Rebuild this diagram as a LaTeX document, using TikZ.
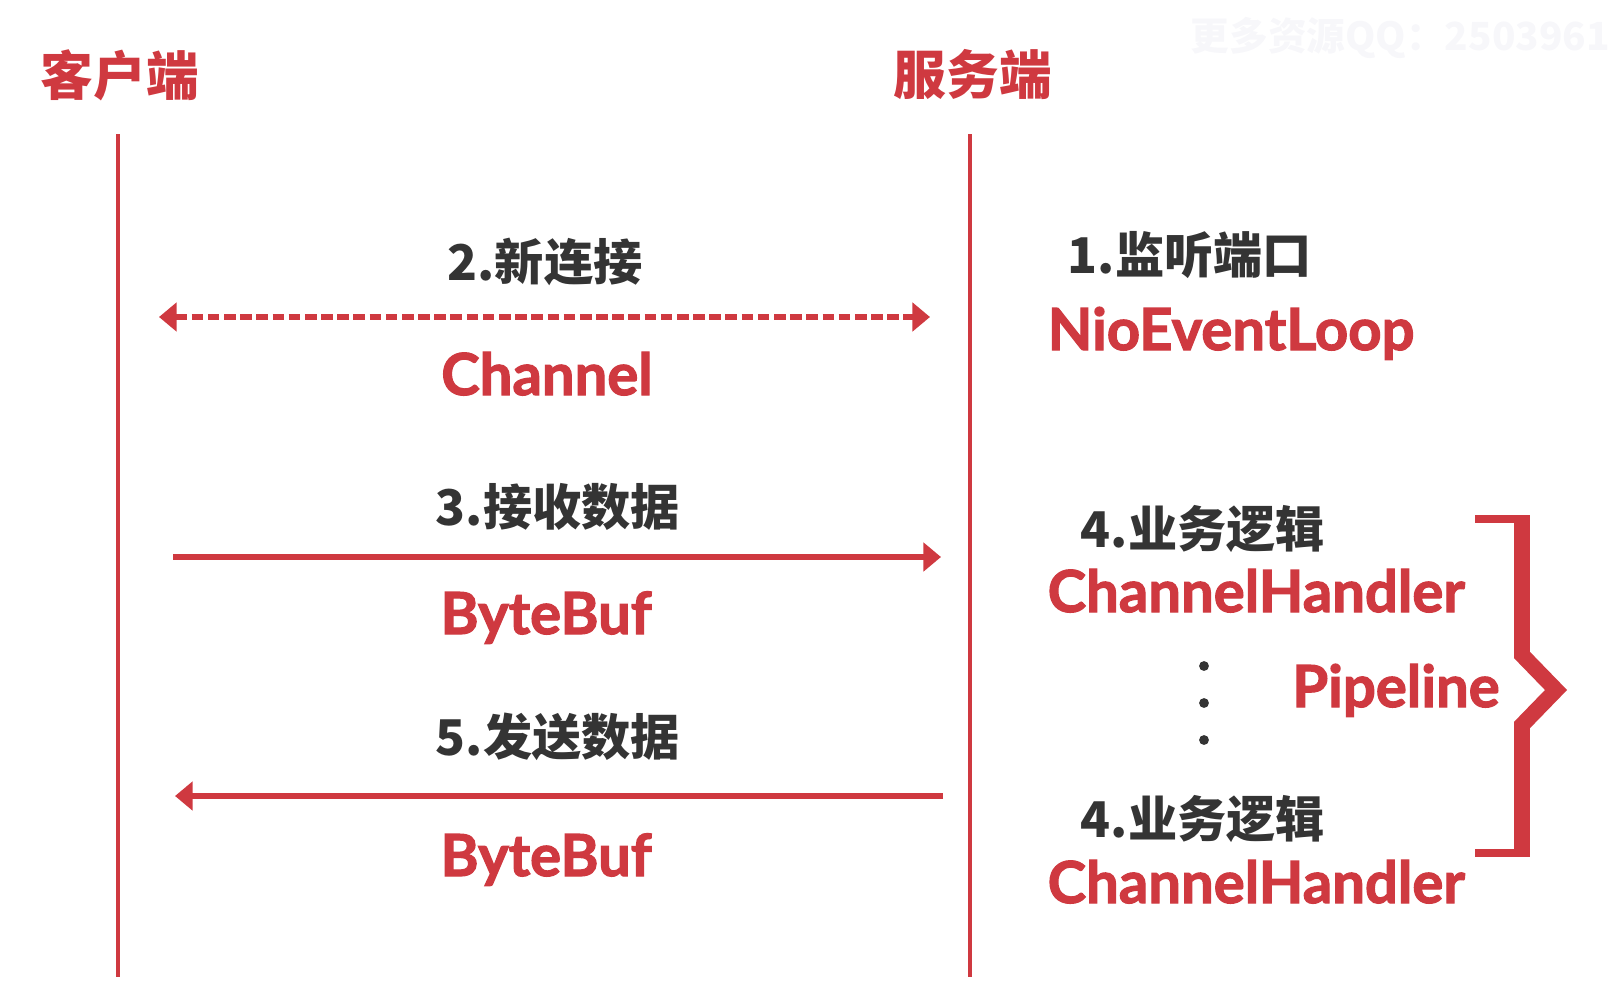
\documentclass[tikz,border=0pt]{standalone}
\usepackage{fontspec}
\setmainfont{Noto Sans CJK SC}
\newfontfamily\latinfont{Lato}[BoldFeatures={FakeBold=2}]
\usetikzlibrary{arrows.meta}
\definecolor{nettyred}{RGB}{207,57,64}
\definecolor{nettygray}{RGB}{52,52,52}
\definecolor{markgray}{RGB}{247,247,250}

\begin{document}
\begin{tikzpicture}[x=0.01cm, y=-0.01cm,
    side/.style={font=\fontsize{15}{18}\selectfont\bfseries, text=nettyred, inner sep=0pt},
    steplabel/.style={font=\fontsize{14}{17}\selectfont\bfseries, text=nettygray, inner sep=0pt},
    objlabel/.style={font=\latinfont\bfseries\fontsize{16.5}{20}\selectfont, text=nettyred, inner sep=0pt},
    lifeline/.style={draw=nettyred, line width=1.4pt},
    msg/.style={draw=nettyred, line width=1.6pt},
    tip/.tip={Triangle[length=5pt, width=8pt]}
  ]
  \useasboundingbox (0,0) rectangle (1612,1000);

  % watermark
  \node[anchor=west, inner sep=0pt, text=markgray, font=\fontsize{11}{13}\selectfont\bfseries] (mark) at (1190,38) {更多资源QQ：2503961};

  % client and server
  \node[side] (client) at (120,75) {客户端};
  \node[side] (server) at (973,75) {服务端};
  \coordinate (ctop) at (118,134);
  \coordinate (cbot) at (118,977);
  \coordinate (stop) at (970,134);
  \coordinate (sbot) at (970,977);
  \draw[lifeline] (ctop) -- (cbot);
  \draw[lifeline] (stop) -- (sbot);

  % 1. listen
  \node[steplabel] (listen) at (1190,255) {1.监听端口};
  \node[objlabel, anchor=base west] (loop) at (1047,350) {NioEventLoop};

  % 2. new connection
  \node[steplabel] (connect) at (545,262) {2.新连接};
  \coordinate (connL) at (159,317);
  \coordinate (connR) at (930,317);
  \draw[msg, tip-tip, dash pattern=on 3.3pt off 1.3pt] (connL) -- (connR);
  \node[objlabel, anchor=base] (channel) at (547,395) {Channel};

  % 3. read
  \node[steplabel] (read) at (558,507) {3.接收数据};
  \coordinate (readL) at (173,557);
  \coordinate (readR) at (941,557);
  \draw[msg, -tip] (readL) -- (readR);
  \node[objlabel, anchor=base] (bufin) at (546,634) {ByteBuf};

  % 4. handlers
  \node[steplabel] (logic1) at (1203,529) {4.业务逻辑};
  \node[objlabel, anchor=base west] (handler1) at (1047,612) {ChannelHandler};
  \foreach \y [count=\i] in {666,703,740}
    \node[circle, fill=nettygray, inner sep=0pt, minimum size=2.8pt] (dot\i) at (1204,\y) {};
  \node[steplabel] (logic2) at (1203,819) {4.业务逻辑};
  \node[objlabel, anchor=base west] (handler2) at (1047,903) {ChannelHandler};
  \node[objlabel, anchor=base] (pipeline) at (1396,707) {Pipeline};
  \draw[nettyred, line width=2.3pt] (1475,519) -- (1530,519);
  \draw[nettyred, line width=2.3pt] (1475,853) -- (1530,853);
  \draw[nettyred, line width=4.5pt, miter limit=10] (1522,519) -- (1522,655) -- (1556,690) -- (1522,725) -- (1522,853);

  % 5. write
  \node[steplabel] (write) at (558,737) {5.发送数据};
  \coordinate (writeR) at (943,796);
  \coordinate (writeL) at (175,796);
  \draw[msg, -tip] (writeR) -- (writeL);
  \node[objlabel, anchor=base] (bufout) at (546,876) {ByteBuf};
\end{tikzpicture}
\end{document}
